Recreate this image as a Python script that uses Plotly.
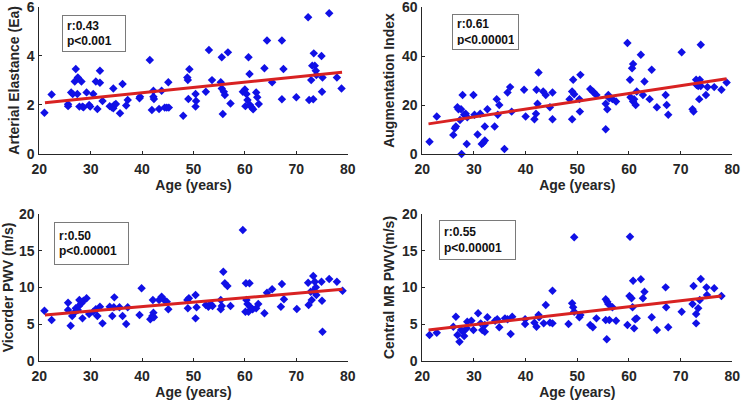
import plotly.graph_objects as go

# ---------------- data ----------------
age_ea = [21.0, 22.4, 25.6, 25.6, 26.2, 26.5, 26.9, 27.1, 27.5, 27.4, 27.8, 28.2, 28.4, 28.6, 29.2, 29.7, 29.9,
          30.5, 31.0, 31.3, 31.8, 31.8, 32.3, 33.7, 34.1, 34.4, 34.4, 34.6, 34.9, 35.7, 36.2, 36.9, 37.2, 39.5,
          39.6, 41.5, 41.9, 42.2, 42.2, 42.3, 43.3, 43.8, 44.4, 44.8, 45.1, 45.2, 48.0, 48.8, 48.9, 49.0, 49.2,
          50.4, 50.5, 50.4, 52.4, 53.0, 53.6, 55.3, 55.5, 55.5, 55.7, 55.9, 56.1, 56.7, 57.2, 59.6, 60.0, 60.1,
          60.3, 60.5, 60.7, 60.9, 61.0, 61.3, 61.6, 62.2, 62.4, 62.7, 63.8, 64.3, 65.3, 67.2, 67.2, 67.5, 70.0,
          72.3, 72.5, 72.9, 73.1, 73.3, 73.4, 73.6, 73.8, 73.9, 74.9, 75.0, 75.1, 76.4, 77.9, 78.8]
ea = [1.68, 2.42, 1.95, 2.03, 2.51, 2.44, 2.95, 3.46, 3.12, 2.44, 1.93, 2.95, 1.93, 1.90, 2.51, 2.00, 1.93,
      2.44, 2.95, 1.83, 3.39, 2.90, 2.16, 1.95, 1.90, 2.67, 1.86, 2.00, 2.04, 1.66, 2.85, 1.98, 2.20, 2.27,
      2.33, 3.83, 1.79, 2.33, 2.58, 2.24, 1.83, 2.58, 1.89, 1.89, 2.92, 1.89, 1.56, 3.12, 3.01, 2.24, 3.45,
      2.44, 2.16, 1.93, 2.54, 4.24, 3.01, 2.92, 3.94, 2.67, 1.63, 2.54, 2.40, 4.14, 2.06, 2.54, 2.63, 1.95,
      2.44, 2.20, 3.94, 3.26, 2.00, 1.90, 1.82, 2.51, 2.31, 2.04, 3.49, 4.62, 2.92, 4.62, 2.23, 3.46, 2.31,
      5.57, 2.20, 3.01, 3.60, 2.23, 4.10, 3.60, 3.39, 3.22, 3.99, 2.54, 3.12, 5.73, 3.12, 2.67]
fit_ea_x = [21.1, 78.9]
fit_ea_y = [2.09, 3.33]

age_ai = [21.4, 22.8, 26.0, 26.3, 26.5, 26.8, 27.0, 27.3, 27.5, 27.6, 27.8, 28.1, 28.4, 28.6, 28.7, 29.9, 30.1,
          30.7, 31.2, 31.5, 31.8, 32.1, 32.1, 32.6, 34.0, 34.4, 34.6, 34.9, 35.9, 36.5, 37.0, 37.3, 39.7, 40.0,
          41.7, 42.0, 42.1, 42.3, 42.5, 43.4, 43.9, 44.7, 45.2, 45.2, 48.5, 49.0, 49.0, 49.2, 49.4, 50.4, 50.5,
          50.6, 52.5, 53.0, 53.2, 53.7, 55.5, 55.5, 55.8, 56.0, 56.2, 56.8, 57.5, 59.7, 60.2, 60.3, 60.6, 60.8,
          60.8, 61.0, 61.3, 61.5, 62.3, 62.7, 63.0, 64.0, 64.4, 65.4, 67.1, 67.3, 67.6, 70.2, 72.3, 72.5, 73.0,
          73.1, 73.4, 73.6, 73.7, 73.9, 73.9, 74.9, 75.2, 76.5, 77.9, 78.9]
ai = [5.0, 15.3, 7.8, 10.5, 11.2, 19.1, 18.3, 13.9, 18.3, 0.0, 24.1, 16.0, 16.4, 4.1, 15.0, 24.1, 16.0,
      8.0, 16.4, 4.1, 4.6, 11.2, 5.5, 18.3, 11.2, 22.4, 16.0, 20.0, 2.0, 25.1, 27.3, 17.3, 26.2, 15.3,
      14.2, 16.4, 26.2, 20.5, 33.3, 25.5, 24.1, 19.1, 25.1, 14.2, 22.4, 25.5, 14.2, 30.3, 24.4, 22.4, 17.3,
      32.3, 26.5, 25.5, 25.1, 24.1, 10.1, 20.5, 18.3, 24.1, 22.8, 22.4, 21.4, 45.3, 30.3, 23.2, 35.0, 36.7,
      21.4, 22.4, 20.0, 25.5, 40.5, 24.1, 29.6, 22.4, 34.4, 19.1, 24.1, 20.0, 16.0, 41.5, 18.3, 17.3, 30.3,
      28.2, 27.8, 22.4, 30.3, 44.6, 27.8, 24.1, 27.3, 27.3, 26.2, 29.2]
fit_ai_x = [21.2, 78.9]
fit_ai_y = [12.3, 30.7]

age_vic = [21.0, 22.4, 25.6, 25.6, 26.1, 26.4, 26.7, 27.1, 27.5, 27.7, 27.8, 28.2, 28.4, 28.6, 29.2, 29.7, 30.5,
           31.0, 31.3, 31.8, 32.3, 33.7, 34.2, 34.6, 34.5, 35.6, 36.2, 36.9, 37.2, 39.5, 39.9, 41.6, 42.0, 42.1,
           42.2, 42.3, 43.3, 43.8, 44.3, 44.8, 45.1, 48.8, 48.9, 49.1, 50.4, 50.4, 50.6, 52.4, 52.9, 53.3, 53.7,
           55.3, 55.3, 55.5, 55.8, 56.1, 56.6, 57.2, 59.6, 60.1, 60.2, 60.3, 60.5, 60.7, 60.9, 61.1, 61.5, 62.2,
           62.6, 63.8, 64.3, 65.3, 67.0, 67.2, 67.6, 70.1, 72.3, 72.4, 72.8, 73.0, 73.3, 73.4, 73.6, 73.8, 73.9,
           74.9, 75.0, 75.1, 76.4, 77.9, 79.0]
vic = [6.85, 5.58, 7.94, 6.94, 4.81, 6.12, 6.49, 7.17, 6.94, 7.48, 8.30, 7.85, 5.80, 8.20, 8.53, 6.39, 6.71,
       7.03, 6.12, 7.39, 5.12, 7.39, 6.12, 8.66, 7.30, 7.30, 6.12, 5.03, 7.30, 6.26, 9.89, 5.67, 6.12, 8.30,
       6.58, 5.94, 8.30, 8.75, 8.30, 8.07, 7.03, 8.30, 7.17, 8.53, 8.98, 5.80, 7.30, 7.62, 7.39, 7.76, 7.48,
       8.30, 7.03, 7.48, 12.15, 10.57, 10.20, 7.48, 17.82, 6.71, 10.57, 8.30, 7.76, 6.71, 10.57, 7.30, 7.03, 7.17,
       7.76, 6.49, 9.30, 9.75, 7.39, 10.48, 8.39, 7.08, 10.66, 7.62, 9.43, 8.30, 11.56, 9.57, 10.79, 10.02, 8.98,
       10.79, 8.21, 3.99, 11.16, 10.79, 9.57]
fit_vic_x = [21.1, 79.0]
fit_vic_y = [6.26, 9.75]

age_mr = [21.4, 22.8, 26.0, 26.5, 26.8, 27.2, 27.5, 27.9, 28.1, 28.6, 28.7, 29.5, 29.9, 30.8, 31.3, 31.6, 32.1,
          32.1, 32.6, 34.1, 34.5, 34.9, 36.0, 36.5, 37.1, 37.4, 39.9, 39.9, 41.7, 42.1, 42.5, 42.6, 43.5, 43.9,
          44.7, 45.2, 45.2, 48.3, 49.0, 49.2, 49.4, 49.4, 50.4, 50.6, 52.5, 53.0, 53.7, 55.5, 55.5, 55.7, 55.8,
          56.0, 56.2, 56.8, 57.5, 59.7, 60.1, 60.2, 60.5, 60.7, 60.8, 61.0, 61.2, 61.5, 62.3, 62.7, 63.0, 64.4,
          65.4, 67.1, 67.2, 67.6, 70.2, 72.3, 72.5, 73.0, 73.0, 73.4, 73.7, 73.9, 75.0, 75.1, 76.5, 77.9]
mr = [3.54, 3.85, 4.67, 6.03, 3.54, 2.63, 4.22, 3.99, 3.40, 4.44, 5.35, 5.49, 4.22, 6.49, 5.12, 4.22, 3.99,
      4.90, 5.94, 5.49, 5.67, 4.58, 5.80, 5.67, 3.67, 6.03, 5.67, 5.03, 5.22, 4.67, 6.26, 5.94, 5.12, 7.62,
      5.22, 5.12, 9.57, 5.03, 7.85, 7.30, 16.83, 6.71, 5.94, 6.26, 4.90, 4.58, 5.80, 5.58, 8.39, 2.95, 8.07,
      7.76, 5.58, 7.30, 5.49, 4.90, 8.84, 16.92, 8.53, 7.30, 10.93, 4.44, 5.67, 5.80, 11.11, 8.53, 9.43, 5.94,
      4.22, 10.02, 7.30, 4.58, 6.71, 7.76, 10.20, 6.39, 5.12, 7.17, 8.30, 11.16, 10.02, 8.98, 9.89, 8.84]
fit_mr_x = [21.2, 77.9]
fit_mr_y = [4.22, 8.84]

x_ticks = [20, 30, 40, 50, 60, 70, 80]
y_ticks_ea = [0, 2, 4, 6]
y_ticks_ai = [0, 20, 40, 60]
y_ticks_pwv = [0, 5, 10, 15, 20]
stats = [("r:0.43", "p<0.001"), ("r:0.61", "p<0.00001"), ("r:0.50", "p<0.00001"), ("r:0.55", "p<0.00001")]
y_titles = ["Arterial Elastance (Ea)", "Augmentation Index", "Vicorder PWV (m/s)", "Central MR PWV(m/s)"]
x_title = "Age (years)"

# ---------------- figure ----------------
W, H = 741, 401
FONT = "Liberation Sans, Arial, sans-serif"
AX = "#262626"
MARK = "#1010e6"
LINE = "#d82222"

panels = [
    (age_ea, ea, fit_ea_x, fit_ea_y, y_ticks_ea),
    (age_ai, ai, fit_ai_x, fit_ai_y, y_ticks_ai),
    (age_vic, vic, fit_vic_x, fit_vic_y, y_ticks_pwv),
    (age_mr, mr, fit_mr_x, fit_mr_y, y_ticks_pwv),
]

# pixel layout of each plot area: (left, right, top, bottom)
boxes = [(39.3, 347.7, 6.7, 154.0), (422.3, 732.3, 7.0, 154.0),
         (39.3, 347.7, 214.0, 361.0), (422.3, 732.3, 214.0, 361.0)]
# annotation boxes (left, top, width, height) in pixels
ann_boxes = [(61.7, 15, 64, 37), (452.3, 14, 67, 36), (54.3, 222.3, 75, 43), (439.3, 220, 77, 40)]
y_title_standoff = [3, 4, 4, 4]

fig = go.Figure()
for i, (px, py, fx, fy, yt) in enumerate(panels):
    k = "" if i == 0 else str(i + 1)
    fig.add_trace(go.Scatter(x=px, y=py, mode="markers", xaxis="x" + k, yaxis="y" + k,
                             marker=dict(symbol="diamond", size=6.5, color=MARK, line=dict(width=0)),
                             showlegend=False, hoverinfo="skip", cliponaxis=False))
    fig.add_trace(go.Scatter(x=fx, y=fy, mode="lines", xaxis="x" + k, yaxis="y" + k,
                             line=dict(color=LINE, width=3), showlegend=False, hoverinfo="skip"))
    l, r, t, b = boxes[i]
    axcommon = dict(showgrid=False, zeroline=False, showline=True, linecolor=AX, linewidth=1,
                    ticks="inside", ticklen=3, tickcolor=AX, mirror=False, automargin=False,
                    ticklabeloverflow="allow",
                    tickfont=dict(family=FONT, size=14, color=AX, weight="bold"))
    fig.layout["xaxis" + k] = dict(domain=[l / W, r / W], range=[20, 80.0001], tickvals=x_ticks,
                                   anchor="y" + k,
                                   title=dict(text="<b>%s</b>" % x_title, standoff=4,
                                              font=dict(family=FONT, size=14, color=AX)),
                                   ticklabelstandoff=2,
                                   **axcommon)
    fig.layout["yaxis" + k] = dict(domain=[1 - b / H, 1 - t / H], range=[yt[0], yt[-1] * 1.0001],
                                   tickvals=yt, anchor="x" + k, ticklabelstandoff=1,
                                   title=dict(text="<b>%s</b>" % y_titles[i], standoff=y_title_standoff[i],
                                              font=dict(family=FONT, size=14, color=AX)),
                                   **axcommon)
    al, at, aw, ah = ann_boxes[i]
    fig.add_annotation(xref="paper", yref="paper", x=al / W, y=1 - at / H, xanchor="left", yanchor="top",
                       text="<b>%s<br>%s</b>" % stats[i], showarrow=False, align="left",
                       width=aw - 10, height=ah - 10, borderpad=4, bordercolor="#7a7a7a", borderwidth=1,
                       bgcolor="white", valign="middle",
                       font=dict(family=FONT, size=12, color="#111111"))

fig.update_layout(width=W, height=H, margin=dict(l=0, r=0, t=0, b=0),
                  paper_bgcolor="white", plot_bgcolor="white")
fig.write_html("out.html", post_script="document.body.style.margin='0';",
               config={"displayModeBar": False})
